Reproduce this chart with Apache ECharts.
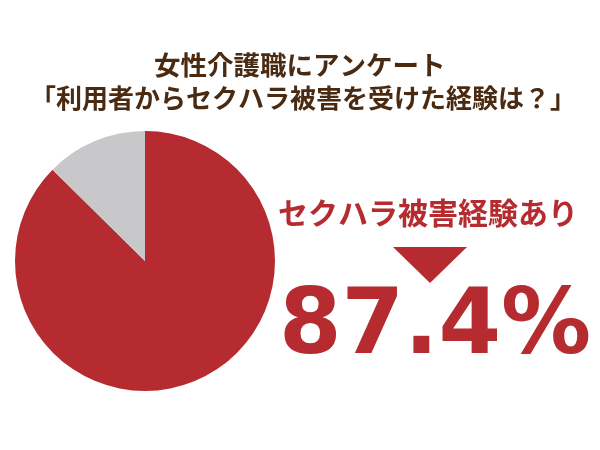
<!DOCTYPE html>
<html><head><meta charset="utf-8">
<script src="https://cdn.jsdelivr.net/npm/echarts@6/dist/echarts.min.js"></script>
<style>html,body{margin:0;padding:0;background:#fff}#c{width:600px;height:450px}</style>
</head><body><div id="c"></div>
<script>
const categories = ['セクハラ被害経験あり', 'なし'];
const values = [87.4, 12.6];
const titleLines = ['女性介護職にアンケート', '「利用者からセクハラ被害を受けた経験は？」'];
const highlightLabel = 'セクハラ被害経験あり';
const highlightValue = '87.4%';

const chart = echarts.init(document.getElementById('c'), null, {renderer: 'canvas'});
const cjk = '"Noto Sans CJK JP", "Noto Sans", sans-serif';
chart.setOption({
  backgroundColor: '#ffffff',
  animation: false,
  series: [{
    type: 'pie',
    center: [145, 261],
    radius: 130,
    startAngle: 90,
    clockwise: true,
    label: {show: false},
    labelLine: {show: false},
    itemStyle: {borderColor: '#ffffff', borderWidth: 0},
    data: categories.map((c, i) => ({name: c, value: values[i],
      itemStyle: {color: i === 0 ? '#b52b2f' : '#c8c8ca'}}))
  }],
  graphic: [
    {type: 'text', left: 154, top: 52, style: {text: titleLines[0], fill: '#4a2b12', font: 'bold 26.5px ' + cjk}},
    {type: 'text', left: 30, top: 85, style: {text: titleLines[1], fill: '#4a2b12', font: 'bold 26px ' + cjk}},
    {type: 'text', left: 278, top: 198, style: {text: highlightLabel, fill: '#b52b2f', font: 'bold 30px ' + cjk}},
    {type: 'polygon', shape: {points: [[393, 247], [467, 247], [430, 283]]}, style: {fill: '#b52b2f'}},
    {type: 'text', left: 279, top: 285, style: {text: highlightValue, fill: '#b52b2f', font: 'bold 90px "DejaVu Sans", sans-serif'}}
  ]
});
</script></body></html>
